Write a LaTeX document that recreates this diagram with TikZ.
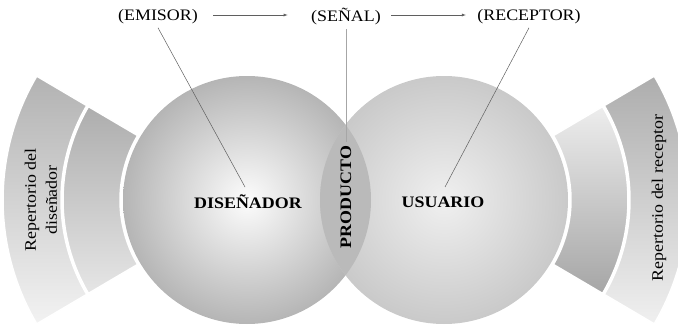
\documentclass[tikz,border=0pt]{standalone}
\usepackage{fontspec}
\setmainfont{Liberation Serif}[FakeStretch=1.12]
\definecolor{linegray}{RGB}{95,95,95}

\begin{document}
\begin{tikzpicture}[x=1pt,y=1pt,font=\fontsize{16}{21}\selectfont]
	\useasboundingbox (0,0) rectangle (678,325);
	\coordinate (c1) at (247,125);
	\coordinate (c2) at (444,125);
	
	% repertorios
	\path[draw=white,line width=1.5pt,top color=black!30,bottom color=black!5]
	  ([shift={(c1)}]149.5:244) arc[start angle=149.5,end angle=210.5,radius=244]
	  -- ([shift={(c1)}]210.5:186) arc[start angle=210.5,end angle=149.5,radius=186] -- cycle;
	\path[draw=white,line width=1.5pt,top color=black!32,bottom color=black!10]
	  ([shift={(c1)}]149.5:184) arc[start angle=149.5,end angle=210.5,radius=184]
	  -- ([shift={(c1)}]210.5:127) arc[start angle=210.5,end angle=149.5,radius=127] -- cycle;
	\path[draw=white,line width=1.5pt,top color=black!32,bottom color=black!6]
	  ([shift={(c2)}]-30.5:244) arc[start angle=-30.5,end angle=30.5,radius=244]
	  -- ([shift={(c2)}]30.5:186) arc[start angle=30.5,end angle=-30.5,radius=186] -- cycle;
	\path[draw=white,line width=1.5pt,top color=black!7,bottom color=black!35]
	  ([shift={(c2)}]-30.5:184) arc[start angle=-30.5,end angle=30.5,radius=184]
	  -- ([shift={(c2)}]30.5:127) arc[start angle=30.5,end angle=-30.5,radius=127] -- cycle;
	
	% circulos
	\shade[inner color=black!1,outer color=black!29] (c1) circle(124);
	\shade[inner color=black!6,outer color=black!21] (c2) circle(124);
	\begin{scope}
		\clip (c1) circle(124);
		\fill[black!27] (c2) circle(124);
	\end{scope}
	
	\node at (248,123)(dis){\bfseries DISEÑADOR};
	\node at (443,123)(usu){\bfseries USUARIO};
	\node[rotate=90] at (346,128)(prod){\bfseries PRODUCTO};
	\node[rotate=90,align=center] at (41,125)(repd){Repertorio del\\diseñador};
	\node[rotate=90] at (659,127)(repr){Repertorio del receptor};
	
	\node at (158,308)(emi){(EMISOR)};
	\node at (346,308)(sen){(SEÑAL)};
	\node at (529,308)(rec){(RECEPTOR)};
	\draw[-latex,linegray,shorten <=12pt,shorten >=20pt] ([yshift=2pt]emi.east) -- ([yshift=2pt]sen.west);
	\draw[-latex,linegray,shorten <=7pt,shorten >=8pt] ([yshift=2pt]sen.east) -- ([yshift=2pt]rec.west);
	
	\coordinate (d) at (245,138);
	\coordinate (u) at (445,138);
	\draw[linegray,line width=0.5pt] (emi.south) -- (d);
	\draw[linegray,line width=0.5pt] (rec.south) -- (u);
	\draw[black!35,line width=0.8pt] (sen.south) -- (prod.east);
\end{tikzpicture}
\end{document}
